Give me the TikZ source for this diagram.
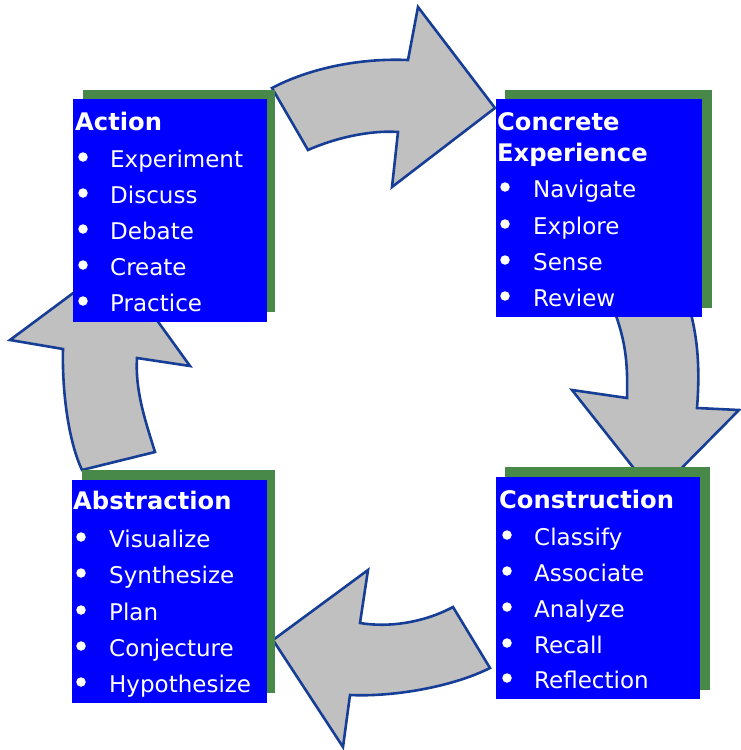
\documentclass[tikz,border=0pt]{standalone}
\usepackage{fontspec}
\setmainfont{DejaVu Sans}
\definecolor{boxblue}{RGB}{0,0,255}
\definecolor{shadowgreen}{RGB}{72,136,72}
\definecolor{arrowgray}{RGB}{192,192,192}
\definecolor{arrowline}{RGB}{22,62,150}
\tikzset{
  arrowshape/.style={fill=arrowgray, draw=arrowline, line width=2.6pt, line join=miter},
  shadowbox/.style={fill=shadowgreen, inner sep=0pt, outer sep=0pt, anchor=north west},
  bluebox/.style={fill=boxblue, inner sep=0pt, outer sep=0pt, anchor=north west},
  boxtitle/.style={text=white, inner sep=0pt, anchor=base west, font=\fontsize{24.2}{28}\selectfont\bfseries},
  item/.style={text=white, inner sep=0pt, anchor=base west, font=\fontsize{23}{28}\selectfont},
  dot/.style={circle, fill=white, inner sep=0pt, minimum size=9.5pt}
}
\begin{document}
\begin{tikzpicture}[x=1pt,y=-1pt]
\useasboundingbox (0,0) rectangle (740,750);
% arrows
\draw[arrowshape] (272,88) .. controls (310,68) and (360,58) .. (408,60) -- (418,7) -- (495,108) -- (392,187) -- (398,132) .. controls (370,130) and (335,138) .. (308,150) -- cycle;
\draw[arrowshape] (614,310) .. controls (625,340) and (628,360) .. (627,398) -- (572,390) -- (655,495) -- (739,410) -- (697,408) .. controls (700,370) and (698,340) .. (690,310) -- cycle;
\draw[arrowshape] (490,668) .. controls (450,688) and (390,697) .. (350,695) -- (343,747) -- (273,640) -- (368,570) -- (360,623) .. controls (390,628) and (425,622) .. (453,607) -- cycle;
\draw[arrowshape] (82,470) .. controls (68,440) and (62,390) .. (63,349) -- (10,340) -- (115,262) -- (190,366) -- (137,358) .. controls (135,390) and (145,420) .. (155,452) -- cycle;
% Action box
\node[shadowbox, minimum width=192pt, minimum height=222pt] (actS) at (83,90) {};
\node[bluebox, minimum width=194pt, minimum height=223pt] (act) at (73,99) {};
\node[boxtitle] (actT) at (75,130) {Action};
\node[dot] (actB1) at (83,157) {}; \node[item] (actI1) at (110,167) {Experiment};
\node[dot] (actB2) at (83,193) {}; \node[item] (actI2) at (110,203) {Discuss};
\node[dot] (actB3) at (83,229) {}; \node[item] (actI3) at (110,239) {Debate};
\node[dot] (actB4) at (83,265) {}; \node[item] (actI4) at (110,275) {Create};
\node[dot] (actB5) at (83,301) {}; \node[item] (actI5) at (110,311) {Practice};
% Concrete Experience box
\node[shadowbox, minimum width=207pt, minimum height=218pt] (ceS) at (505,90) {};
\node[bluebox, minimum width=206pt, minimum height=218pt] (ce) at (496,99) {};
\node[boxtitle] (ceT1) at (497,130) {Concrete};
\node[boxtitle] (ceT2) at (497,161) {Experience};
\node[dot] (ceB1) at (505,187) {}; \node[item] (ceI1) at (533,197) {Navigate};
\node[dot] (ceB2) at (505,224) {}; \node[item] (ceI2) at (533,234) {Explore};
\node[dot] (ceB3) at (505,260) {}; \node[item] (ceI3) at (533,270) {Sense};
\node[dot] (ceB4) at (505,296) {}; \node[item] (ceI4) at (533,306) {Review};
% Construction box
\node[shadowbox, minimum width=205pt, minimum height=223pt] (coS) at (505,467) {};
\node[bluebox, minimum width=204pt, minimum height=222pt] (co) at (496,477) {};
\node[boxtitle] (coT) at (499,508) {Construction};
\node[dot] (coB1) at (507,535) {}; \node[item] (coI1) at (534,545) {Classify};
\node[dot] (coB2) at (507,571) {}; \node[item] (coI2) at (534,581) {Associate};
\node[dot] (coB3) at (507,607) {}; \node[item] (coI3) at (534,617) {Analyze};
\node[dot] (coB4) at (507,643) {}; \node[item] (coI4) at (534,653) {Recall};
\node[dot] (coB5) at (507,678) {}; \node[item] (coI5) at (534,688) {Reflection};
% Abstraction box
\node[shadowbox, minimum width=193pt, minimum height=223pt] (abS) at (82,470) {};
\node[bluebox, minimum width=195pt, minimum height=223pt] (ab) at (72,480) {};
\node[boxtitle] (abT) at (73,509) {Abstraction};
\node[dot] (abB1) at (81,537) {}; \node[item] (abI1) at (109,547) {Visualize};
\node[dot] (abB2) at (81,573) {}; \node[item] (abI2) at (109,583) {Synthesize};
\node[dot] (abB3) at (81,610) {}; \node[item] (abI3) at (109,620) {Plan};
\node[dot] (abB4) at (81,646) {}; \node[item] (abI4) at (109,656) {Conjecture};
\node[dot] (abB5) at (81,682) {}; \node[item] (abI5) at (109,692) {Hypothesize};
\end{tikzpicture}
\end{document}
